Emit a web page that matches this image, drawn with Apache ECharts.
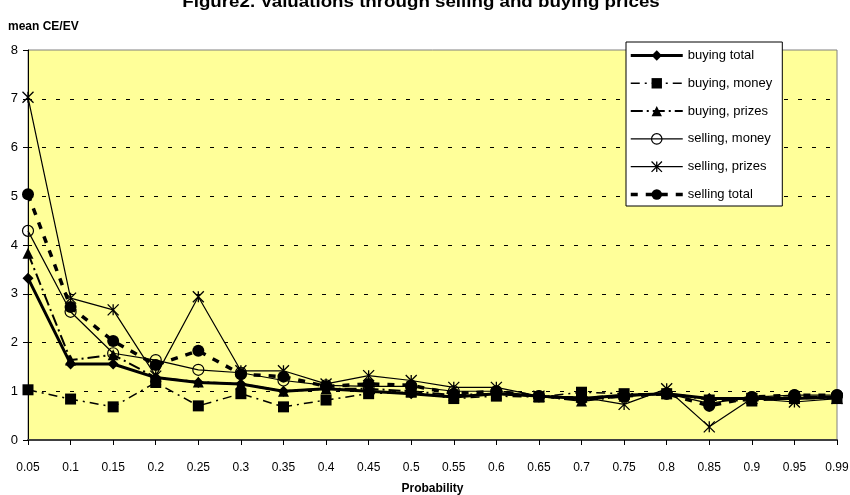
<!DOCTYPE html>
<html>
<head>
<meta charset="utf-8">
<script src="https://cdn.jsdelivr.net/npm/echarts@6/dist/echarts.min.js"></script>
<style>
  html, body { margin: 0; padding: 0; background: #fff; }
  #chart { width: 850px; height: 495px; }
</style>
</head>
<body>
<div id="chart"></div>
<script>
// Probability levels on the x axis
const categories = ['0.05','0.1','0.15','0.2','0.25','0.3','0.35','0.4','0.45','0.5',
                    '0.55','0.6','0.65','0.7','0.75','0.8','0.85','0.9','0.95','0.99'];

// mean CE/EV per probability, one array per treatment
const buyingTotal   = [3.32,1.56,1.56,1.28,1.18,1.15,1.00,1.05,1.00,0.95,0.88,0.95,0.90,0.85,0.92,0.95,0.85,0.85,0.85,0.88];
const buyingMoney   = [1.03,0.84,0.68,1.18,0.70,0.95,0.68,0.82,0.95,0.98,0.85,0.90,0.88,0.98,0.95,0.95,0.82,0.80,0.85,0.85];
const buyingPrizes  = [3.83,1.64,1.75,1.28,1.19,1.15,1.00,1.05,1.05,1.00,0.92,0.95,0.90,0.80,0.90,0.95,0.85,0.85,0.88,0.88];
const sellingMoney  = [4.29,2.63,1.78,1.64,1.44,1.38,1.22,1.12,1.10,1.10,1.00,1.00,0.90,0.85,0.90,0.95,0.75,0.88,0.92,0.92];
const sellingPrizes = [7.03,2.91,2.67,1.31,2.94,1.42,1.42,1.15,1.32,1.22,1.08,1.08,0.90,0.88,0.73,1.05,0.27,0.85,0.78,0.85];
const sellingTotal  = [5.04,2.73,2.03,1.54,1.83,1.35,1.30,1.10,1.15,1.12,0.95,1.00,0.90,0.85,0.90,0.95,0.70,0.88,0.92,0.92];

const yTicks = [0, 1, 2, 3, 4, 5, 6, 7, 8];

const FONT = 'Liberation Sans, Arial, sans-serif';
const asterisk = 'path://M0 0L10 10M0 10L10 0M5 0L5 10';

function lineSeries(name, data, lineType, width, symbol, size, itemStyle) {
  return {
    name: name,
    type: 'line',
    data: data,
    symbol: symbol,
    symbolSize: size,
    showSymbol: true,
    lineStyle: { color: '#000', width: width, type: lineType },
    itemStyle: Object.assign({ color: '#000', borderWidth: 0 }, itemStyle || {}),
    emphasis: { disabled: true }
  };
}

const chart = echarts.init(document.getElementById('chart'), null, { renderer: 'canvas' });

chart.setOption({
  animation: false,
  backgroundColor: '#fff',
  title: [
    {
      text: 'mean CE/EV',
      left: 3,
      top: 16,
      textStyle: { fontFamily: FONT, fontSize: 12, fontWeight: 'bold', color: '#000' }
    }
  ],
  graphic: [
    {
      type: 'text',
      x: 421,
      y: 3,
      scaleX: 1.17,
      style: {
        text: 'Figure2. Valuations through selling and buying prices',
        font: 'bold 16px ' + FONT,
        fill: '#000',
        align: 'center',
        verticalAlign: 'middle'
      }
    }
  ],
  grid: {
    left: 28, right: 13, top: 50, bottom: 55,
    show: true,
    backgroundColor: '#FFFF99',
    borderColor: '#808080',
    borderWidth: 1,
    containLabel: false,
    outerBoundsMode: 'none'
  },
  legend: {
    orient: 'vertical',
    left: 626,
    top: 42,
    backgroundColor: '#fff',
    borderColor: '#000',
    borderWidth: 1,
    borderRadius: 0,
    padding: [7, 10, 5, 3],
    itemGap: 14.8,
    itemWidth: 52,
    itemHeight: 13,
    textStyle: { fontFamily: FONT, fontSize: 13, color: '#000' },
    lineStyle: { width: 'inherit' },
    itemStyle: { borderWidth: 'inherit' },
    selectedMode: false
  },
  xAxis: {
    type: 'category',
    data: categories,
    boundaryGap: false,
    name: 'Probability',
    nameLocation: 'middle',
    nameGap: 43,
    nameTextStyle: { fontFamily: FONT, fontSize: 12, fontWeight: 'bold', color: '#000' },
    axisLine: { lineStyle: { color: '#404040', width: 2 } },
    axisTick: { show: true, alignWithLabel: true, interval: 0, length: 5, lineStyle: { color: '#000', width: 1 } },
    axisLabel: { interval: 0, margin: 22, fontFamily: FONT, fontSize: 12, color: '#000' },
    splitLine: { show: false }
  },
  yAxis: {
    type: 'value',
    min: yTicks[0],
    max: yTicks[yTicks.length - 1],
    interval: 1,
    axisLine: { show: true, lineStyle: { color: '#000', width: 1 } },
    axisTick: { show: true, length: 5, lineStyle: { color: '#000', width: 1 } },
    axisLabel: { margin: 10, fontFamily: FONT, fontSize: 13, color: '#000' },
    splitLine: {
      show: true,
      lineStyle: {
        color: yTicks.map(v => (v === 0 || v === 8) ? 'rgba(0,0,0,0)' : '#000'),
        width: 1,
        type: [4, 10]
      }
    }
  },
  series: [
    lineSeries('buying total',   buyingTotal,   'solid',         3,   'diamond',  11),
    lineSeries('buying, money',  buyingMoney,   [9, 5, 2, 5],    1.5, 'rect',     11),
    lineSeries('buying, prizes', buyingPrizes,  [12, 4, 2, 4],   2,   'triangle', 11),
    lineSeries('selling, money', sellingMoney,  'solid',         1.2, 'circle',   11,
               { color: 'rgba(0,0,0,0)', borderColor: '#000', borderWidth: 1.2 }),
    lineSeries('selling, prizes', sellingPrizes, 'solid',        1.2, asterisk,   11,
               { color: 'rgba(0,0,0,0)', borderColor: '#000', borderWidth: 1.3 }),
    lineSeries('selling total',  sellingTotal,  [7, 8],          3.5, 'circle',   12)
  ]
});
</script>
</body>
</html>
